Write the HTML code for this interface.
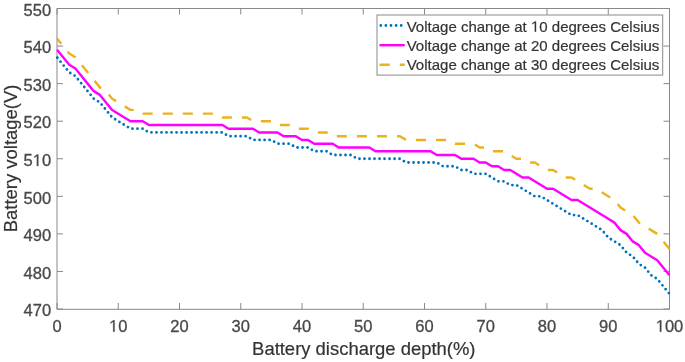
<!DOCTYPE html>
<html><head><meta charset="utf-8"><style>
html,body{margin:0;padding:0;background:#fff;width:685px;height:362px;overflow:hidden}
svg{display:block}
text{font-family:"Liberation Sans",sans-serif;fill:#333;stroke:#333;stroke-width:0.2px}
.tk{font-size:16.5px;fill:#484848;stroke:#484848;stroke-width:0.3px}
.lb{font-size:18.45px}
.lg{font-size:15.0px}
.h1{fill:none!important;stroke:none!important}
path.one{fill:#333;stroke:#333;stroke-width:0.2px}
path.one.tk{fill:#484848;stroke:#484848;stroke-width:0.3px}
</style></head><body>
<svg width="685" height="362" viewBox="0 0 685 362">
<g style="will-change:transform">
<path d="M57,8.5H669.5V309.3H57Z" fill="none" stroke="#898989" stroke-width="1"/>
<path d="M57.0,309.3V303M57.0,8.5V14.5M118.25,309.3V303M118.25,8.5V14.5M179.5,309.3V303M179.5,8.5V14.5M240.75,309.3V303M240.75,8.5V14.5M302.0,309.3V303M302.0,8.5V14.5M363.25,309.3V303M363.25,8.5V14.5M424.5,309.3V303M424.5,8.5V14.5M485.75,309.3V303M485.75,8.5V14.5M547.0,309.3V303M547.0,8.5V14.5M608.25,309.3V303M608.25,8.5V14.5M669.5,309.3V303M669.5,8.5V14.5M57,8.5H63M669.5,8.5H663.5M57,46.0625H63M669.5,46.0625H663.5M57,83.625H63M669.5,83.625H663.5M57,121.1875H63M669.5,121.1875H663.5M57,158.75H63M669.5,158.75H663.5M57,196.3125H63M669.5,196.3125H663.5M57,233.875H63M669.5,233.875H663.5M57,271.4375H63M669.5,271.4375H663.5M57,309.0H63M669.5,309.0H663.5" stroke="#898989" stroke-width="1" fill="none"/>
<polyline points="57.00,57.33 63.12,64.84 69.25,72.36 75.38,76.11 81.50,83.62 87.62,91.14 93.75,98.65 99.88,102.41 106.00,109.92 112.12,117.43 118.25,121.19 124.38,124.94 130.50,128.70 136.62,128.70 142.75,128.70 148.88,132.46 155.00,132.46 161.12,132.46 167.25,132.46 173.38,132.46 179.50,132.46 185.62,132.46 191.75,132.46 197.88,132.46 204.00,132.46 210.12,132.46 216.25,132.46 222.38,132.46 228.50,136.21 234.62,136.21 240.75,136.21 246.88,136.21 253.00,139.97 259.12,139.97 265.25,139.97 271.38,139.97 277.50,143.72 283.62,143.72 289.75,143.72 295.88,147.48 302.00,147.48 308.12,147.48 314.25,151.24 320.38,151.24 326.50,151.24 332.62,154.99 338.75,154.99 344.88,154.99 351.00,154.99 357.12,158.75 363.25,158.75 369.38,158.75 375.50,158.75 381.62,158.75 387.75,158.75 393.88,158.75 400.00,158.75 406.12,162.51 412.25,162.51 418.38,162.51 424.50,162.51 430.62,162.51 436.75,162.51 442.88,166.26 449.00,166.26 455.12,166.26 461.25,170.02 467.38,170.02 473.50,173.78 479.62,173.78 485.75,173.78 491.88,177.53 498.00,181.29 504.12,181.29 510.25,185.04 516.38,185.04 522.50,188.80 528.62,192.56 534.75,196.31 540.88,196.31 547.00,200.07 553.12,203.83 559.25,207.58 565.38,211.34 571.50,215.09 577.62,215.09 583.75,218.85 589.88,222.61 596.00,226.36 602.12,230.12 608.25,237.63 614.38,241.39 620.50,245.14 626.62,252.66 632.75,256.41 638.88,263.93 645.00,267.68 651.12,275.19 657.25,278.95 663.38,286.46 669.50,293.98" fill="none" stroke="#0072bd" stroke-width="2.8" stroke-dasharray="0 5.01" stroke-dashoffset="4.44" stroke-linecap="round" stroke-linejoin="round"/>
<polyline points="57.00,49.82 63.12,57.33 69.25,64.84 75.38,68.60 81.50,76.11 87.62,83.62 93.75,91.14 99.88,94.89 106.00,102.41 112.12,109.92 118.25,113.67 124.38,117.43 130.50,121.19 136.62,121.19 142.75,121.19 148.88,124.94 155.00,124.94 161.12,124.94 167.25,124.94 173.38,124.94 179.50,124.94 185.62,124.94 191.75,124.94 197.88,124.94 204.00,124.94 210.12,124.94 216.25,124.94 222.38,124.94 228.50,128.70 234.62,128.70 240.75,128.70 246.88,128.70 253.00,128.70 259.12,132.46 265.25,132.46 271.38,132.46 277.50,132.46 283.62,136.21 289.75,136.21 295.88,136.21 302.00,139.97 308.12,139.97 314.25,143.72 320.38,143.72 326.50,143.72 332.62,143.72 338.75,147.48 344.88,147.48 351.00,147.48 357.12,147.48 363.25,147.48 369.38,147.48 375.50,151.24 381.62,151.24 387.75,151.24 393.88,151.24 400.00,151.24 406.12,151.24 412.25,151.24 418.38,151.24 424.50,151.24 430.62,151.24 436.75,154.99 442.88,154.99 449.00,154.99 455.12,154.99 461.25,158.75 467.38,158.75 473.50,158.75 479.62,162.51 485.75,162.51 491.88,166.26 498.00,166.26 504.12,170.02 510.25,170.02 516.38,173.78 522.50,177.53 528.62,177.53 534.75,181.29 540.88,185.04 547.00,188.80 553.12,188.80 559.25,192.56 565.38,196.31 571.50,200.07 577.62,200.07 583.75,203.83 589.88,207.58 596.00,211.34 602.12,215.09 608.25,218.85 614.38,222.61 620.50,230.12 626.62,233.88 632.75,241.39 638.88,245.14 645.00,252.66 651.12,256.41 657.25,260.17 663.38,267.68 669.50,275.19" fill="none" stroke="#ff00ff" stroke-width="2.4" stroke-linejoin="round"/>
<polyline points="57.00,38.55 63.12,46.06 69.25,53.58 75.38,57.33 81.50,64.84 87.62,72.36 93.75,79.87 99.88,87.38 106.00,91.14 112.12,98.65 118.25,102.41 124.38,106.16 130.50,109.92 136.62,109.92 142.75,113.67 148.88,113.67 155.00,113.67 161.12,113.67 167.25,113.67 173.38,113.67 179.50,113.67 185.62,113.67 191.75,113.67 197.88,113.67 204.00,113.67 210.12,113.67 216.25,113.67 222.38,117.43 228.50,117.43 234.62,117.43 240.75,117.43 246.88,117.43 253.00,121.19 259.12,121.19 265.25,121.19 271.38,121.19 277.50,124.94 283.62,124.94 289.75,124.94 295.88,128.70 302.00,128.70 308.12,128.70 314.25,132.46 320.38,132.46 326.50,132.46 332.62,136.21 338.75,136.21 344.88,136.21 351.00,136.21 357.12,136.21 363.25,136.21 369.38,136.21 375.50,136.21 381.62,136.21 387.75,136.21 393.88,136.21 400.00,136.21 406.12,139.97 412.25,139.97 418.38,139.97 424.50,139.97 430.62,139.97 436.75,139.97 442.88,139.97 449.00,139.97 455.12,143.72 461.25,143.72 467.38,143.72 473.50,143.72 479.62,147.48 485.75,147.48 491.88,151.24 498.00,151.24 504.12,151.24 510.25,154.99 516.38,158.75 522.50,158.75 528.62,162.51 534.75,162.51 540.88,166.26 547.00,170.02 553.12,170.02 559.25,173.78 565.38,177.53 571.50,177.53 577.62,181.29 583.75,185.04 589.88,188.80 596.00,188.80 602.12,192.56 608.25,196.31 614.38,200.07 620.50,207.58 626.62,211.34 632.75,215.09 638.88,222.61 645.00,226.36 651.12,230.12 657.25,233.88 663.38,241.39 669.50,248.90" fill="none" stroke="#edb120" stroke-width="2.4" stroke-dasharray="10 10.05" stroke-dashoffset="3.25" stroke-linejoin="round"/>
<text x="51.1" y="15.7" text-anchor="end" class="tk">550</text>
<text x="51.1" y="53.3" text-anchor="end" class="tk">540</text>
<text x="51.1" y="90.8" text-anchor="end" class="tk">530</text>
<text x="51.1" y="128.4" text-anchor="end" class="tk">520</text>
<text x="51.1" y="165.9" text-anchor="end" class="tk">5<tspan class="h1">1</tspan>0</text>
<text x="51.1" y="203.5" text-anchor="end" class="tk">500</text>
<text x="51.1" y="241.1" text-anchor="end" class="tk">490</text>
<text x="51.1" y="278.6" text-anchor="end" class="tk">480</text>
<text x="51.1" y="316.2" text-anchor="end" class="tk">470</text>
<text x="57.0" y="331.7" text-anchor="middle" class="tk">0</text>
<text x="118.2" y="331.7" text-anchor="middle" class="tk"><tspan class="h1">1</tspan>0</text>
<text x="179.5" y="331.7" text-anchor="middle" class="tk">20</text>
<text x="240.8" y="331.7" text-anchor="middle" class="tk">30</text>
<text x="302.0" y="331.7" text-anchor="middle" class="tk">40</text>
<text x="363.2" y="331.7" text-anchor="middle" class="tk">50</text>
<text x="424.5" y="331.7" text-anchor="middle" class="tk">60</text>
<text x="485.8" y="331.7" text-anchor="middle" class="tk">70</text>
<text x="547.0" y="331.7" text-anchor="middle" class="tk">80</text>
<text x="608.2" y="331.7" text-anchor="middle" class="tk">90</text>
<text x="669.5" y="331.7" text-anchor="middle" class="tk"><tspan class="h1">1</tspan>00</text>
<text x="363.8" y="354.6" text-anchor="middle" class="lb">Battery discharge depth(%)</text>
<text transform="translate(16.7,158.4) rotate(-90)" text-anchor="middle" class="lb">Battery voltage(V)</text>
<rect x="377" y="15" width="285.7" height="60.1" fill="none" stroke="#898989" stroke-width="1"/>
<line x1="380.8" y1="25.5" x2="402" y2="25.5" stroke="#0072bd" stroke-width="2.8" stroke-dasharray="0 5.1" stroke-linecap="round"/>
<line x1="379.5" y1="45.2" x2="404.7" y2="45.2" stroke="#ff00ff" stroke-width="2.4"/>
<line x1="379.5" y1="64.7" x2="404.7" y2="64.7" stroke="#edb120" stroke-width="2.4" stroke-dasharray="10.3 10"/>
<text x="406.7" y="31.7" class="lg">Voltage change at <tspan class="h1">1</tspan>0 degrees Celsius</text>
<text x="406.7" y="51.0" class="lg">Voltage change at 20 degrees Celsius</text>
<text x="406.7" y="70.1" class="lg">Voltage change at 30 degrees Celsius</text>
<path class="one tk" transform="translate(32.725,165.90) scale(0.008057,-0.008057)" d="M515,0L515,1237L197,1010L197,1180L530,1409L696,1409L696,0Z" vector-effect="non-scaling-stroke"/>
<path class="one tk" transform="translate(109.012,331.70) scale(0.008057,-0.008057)" d="M515,0L515,1237L197,1010L197,1180L530,1409L696,1409L696,0Z" vector-effect="non-scaling-stroke"/>
<path class="one tk" transform="translate(655.727,331.70) scale(0.008057,-0.008057)" d="M515,0L515,1237L197,1010L197,1180L530,1409L696,1409L696,0Z" vector-effect="non-scaling-stroke"/>
<path class="one lg" transform="translate(530.981,31.70) scale(0.007324,-0.007324)" d="M515,0L515,1237L197,1010L197,1180L530,1409L696,1409L696,0Z" vector-effect="non-scaling-stroke"/>
</g>
</svg>
</body></html>
